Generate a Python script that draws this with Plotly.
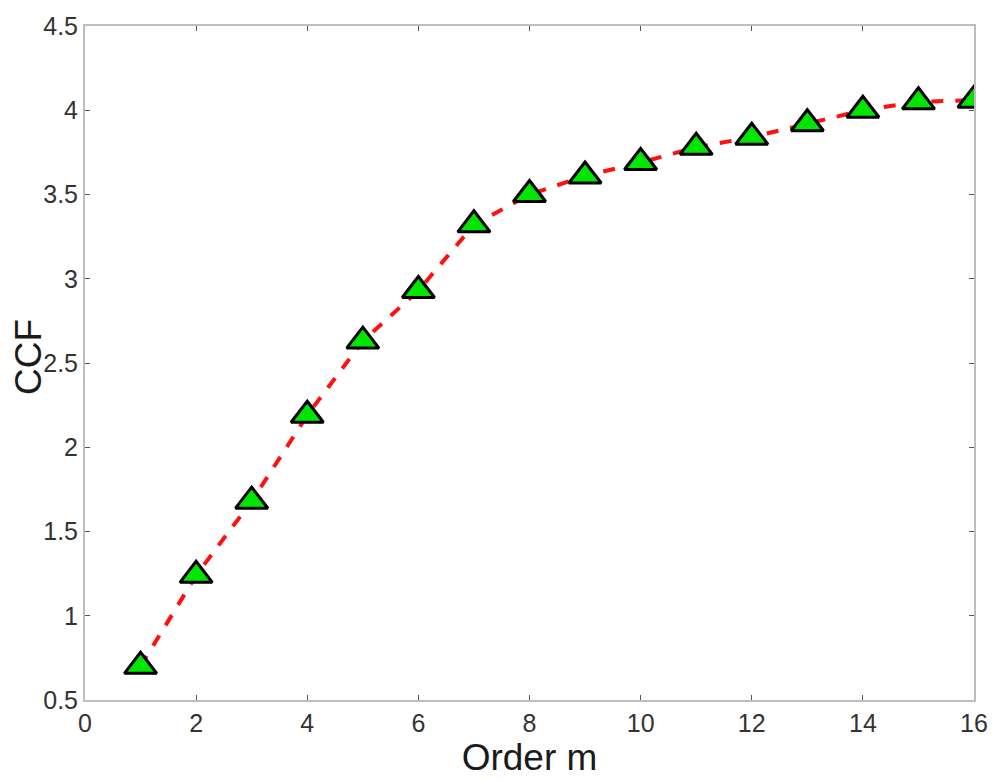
import plotly.graph_objects as go

order_m = [1, 2, 3, 4, 5, 6, 7, 8, 9, 10, 11, 12, 13, 14, 15, 16]
ccf = [0.70, 1.24, 1.68, 2.19, 2.63, 2.93, 3.32, 3.50, 3.61, 3.69, 3.78, 3.84, 3.92, 4.00, 4.05, 4.06]

x_ticks = list(range(0, 17, 2))
y_ticks = [0.5, 1, 1.5, 2, 2.5, 3, 3.5, 4, 4.5]
y_tick_text = ["0.5", "1", "1.5", "2", "2.5", "3", "3.5", "4", "4.5"]

fig = go.Figure()
fig.add_trace(go.Scatter(
    x=order_m, y=ccf, mode="lines+markers",
    line=dict(color="#ff1010", width=4, dash="dash"),
    marker=dict(symbol="triangle-up", size=28, color="#00e600",
                line=dict(color="black", width=3)),
    showlegend=False,
))

axis_common = dict(
    showgrid=False, zeroline=False, showline=True, linecolor="#bdbdbd", linewidth=2,
    mirror="ticks", ticks="inside", ticklen=5, tickcolor="#555555", tickwidth=1,
    tickfont=dict(family="Liberation Sans, Arial", size=25, color="#333333"),
)

fig.update_xaxes(range=[0, 16], tickvals=x_ticks, **axis_common,
                 title=dict(text="Order m", standoff=4,
                            font=dict(family="Liberation Sans, Arial", size=37, color="#1a1a1a")))
fig.update_yaxes(range=[0.5, 4.5], tickvals=y_ticks, ticktext=y_tick_text, **axis_common)

fig.add_annotation(
    text="CCF", textangle=-90, showarrow=False,
    xref="paper", yref="paper", x=0, y=0.5, xanchor="center", yanchor="middle",
    xshift=-57, yshift=6,
    font=dict(family="Liberation Sans, Arial", size=37, color="#1a1a1a"),
)

fig.update_layout(
    width=1000, height=781,
    margin=dict(l=85, r=22, t=20, b=81),
    plot_bgcolor="white", paper_bgcolor="white",
)

fig.write_html("out.html")
